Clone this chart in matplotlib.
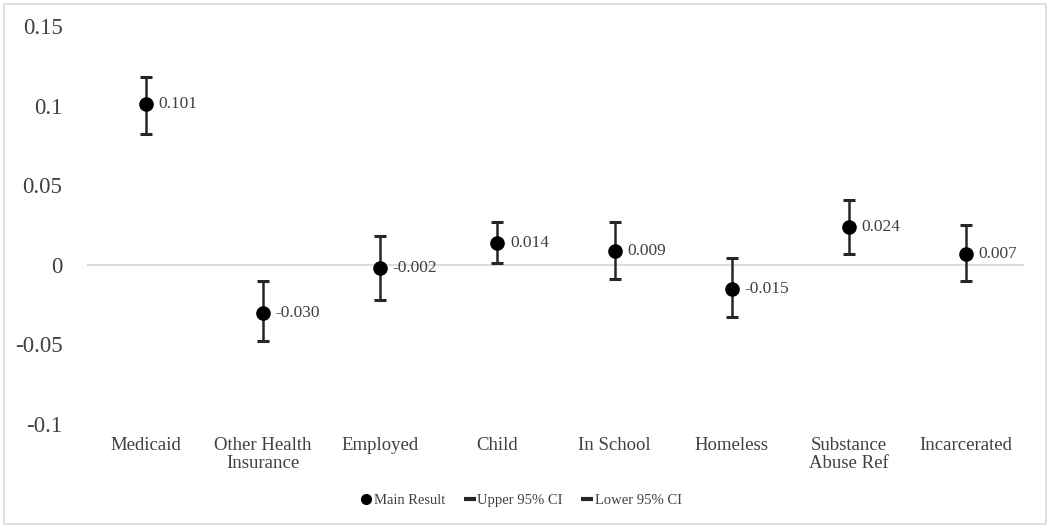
import matplotlib.pyplot as plt
from matplotlib.lines import Line2D
from matplotlib.patches import Rectangle

# Data
categories = ["Medicaid", "Other Health\nInsurance", "Employed", "Child",
              "In School", "Homeless", "Substance\nAbuse Ref", "Incarcerated"]
main_result = [0.101, -0.030, -0.002, 0.014, 0.009, -0.015, 0.024, 0.007]
upper_ci = [0.118, -0.010, 0.018, 0.027, 0.027, 0.004, 0.041, 0.025]
lower_ci = [0.082, -0.048, -0.022, 0.001, -0.009, -0.033, 0.007, -0.010]
y_ticks = [-0.1, -0.05, 0, 0.05, 0.1, 0.15]
y_tick_labels = ["-0.1", "-0.05", "0", "0.05", "0.1", "0.15"]
legend_labels = ["Main Result", "Upper 95% CI", "Lower 95% CI"]

plt.rcParams['font.family'] = ['Liberation Serif', 'DejaVu Serif']

fig = plt.figure(figsize=(10.5, 5.32), dpi=100)
ax = fig.add_axes([0.0833, 0.203, 0.8924, 0.748])

x = list(range(len(categories)))
bar_color = "#262626"
text_color = "#404040"

# zero line
ax.axhline(0, color="#d9d9d9", lw=1.3, zorder=0)

# high-low lines and CI caps
ax.vlines(x, lower_ci, upper_ci, color=bar_color, lw=1.8, zorder=2)
ax.plot(x, upper_ci, "_", color=bar_color, ms=8, mew=2.2, ls="none", zorder=3)
ax.plot(x, lower_ci, "_", color=bar_color, ms=8, mew=2.2, ls="none", zorder=3)
ax.plot(x, main_result, "o", color="black", ms=9.5, ls="none", zorder=4)

for xi, v in zip(x, main_result):
    ax.annotate(f"{v:.3f}", (xi, v), xytext=(9, 0), textcoords="offset points",
                va="center", ha="left", fontsize=12.5, color=text_color)

ax.set_xlim(-0.5, len(categories) - 0.5)
ax.set_ylim(-0.1, 0.15)
ax.set_yticks(y_ticks)
ax.set_yticklabels(y_tick_labels)
ax.set_xticks(x)
ax.set_xticklabels(categories, fontsize=13.5, color=text_color, linespacing=1.15)
ax.tick_params(axis="y", length=0, pad=18, labelsize=16.5, labelcolor=text_color)
ax.tick_params(axis="x", length=0, pad=9)
for s in ax.spines.values():
    s.set_visible(False)

handles = [
    Line2D([], [], marker="o", color="black", ms=7, ls="none"),
    Line2D([], [], marker="_", color=bar_color, ms=9, mew=3, ls="none"),
    Line2D([], [], marker="_", color=bar_color, ms=9, mew=3, ls="none"),
]
fig.legend(handles, legend_labels,
           loc="center", bbox_to_anchor=(0.496, 0.06), ncol=3, frameon=False,
           fontsize=10.5, handletextpad=0.05, columnspacing=1.25, handlelength=0.9,
           labelcolor=text_color)

# chart border
fig.patches.append(Rectangle((4 / 1050, 8 / 532), 1042 / 1050, 520 / 532,
                             transform=fig.transFigure, fill=False,
                             edgecolor="#d9d9d9", lw=1.2))

fig.savefig("out.png", dpi=100)
